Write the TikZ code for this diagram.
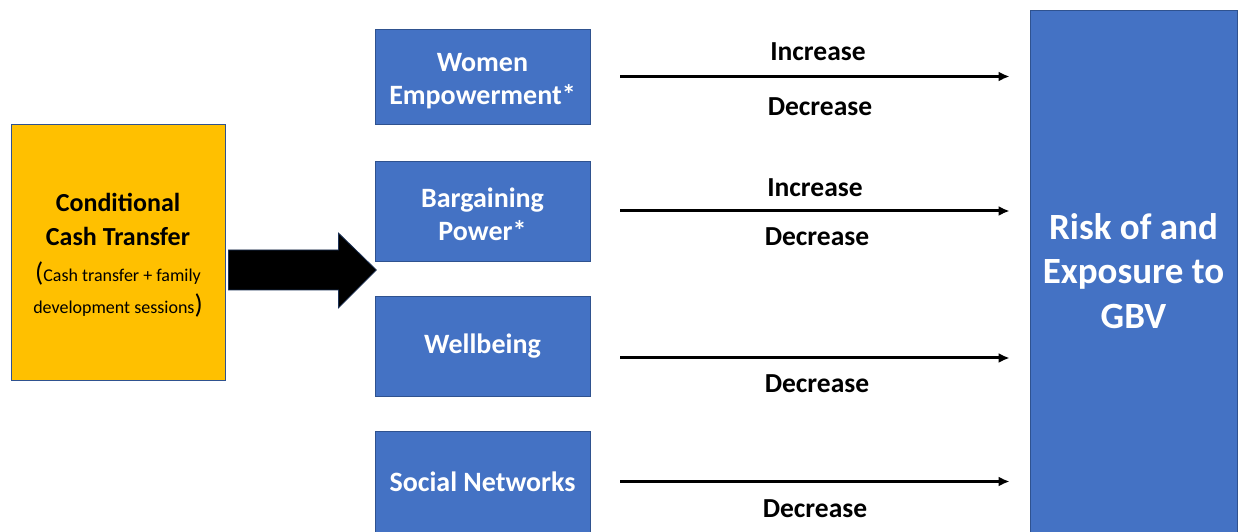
\documentclass[tikz,border=0pt]{standalone}
\usepackage{fontspec}
\setmainfont{Carlito}
\usetikzlibrary{calc,arrows.meta}
\definecolor{ppyellow}{HTML}{FFC000}
\definecolor{ppblue}{HTML}{4472C4}
\definecolor{ppedge}{HTML}{2F528F}
\newcommand{\subtext}{\fontsize{18}{34}\selectfont\mdseries}
\newcommand{\bigparen}[1]{{\fontsize{27}{34}\selectfont #1}}
% taller first line, so that a two-line label sits a little lower
\newcommand{\lowerstrut}[1]{\rule{0pt}{#1}}
\begin{document}
\begin{tikzpicture}[x=1pt,y=1pt,
  box/.style={draw=ppedge, line width=0.8pt, inner sep=0pt, align=center},
  factor/.style={box, fill=ppblue, text=white, minimum width=215pt,
    font=\fontsize{28}{33}\selectfont\bfseries},
  flow/.style={line width=3pt, -{Latex[length=11pt,width=10pt]}},
  effect/.style={font=\fontsize{27.5}{30}\selectfont\bfseries, text=black}]
\useasboundingbox (0,0) rectangle (1238,532);
\fill[white] (0,0) rectangle (1238,532);

% programme box
\node[box, fill=ppyellow, minimum width=214pt, minimum height=256pt,
  font=\fontsize{26}{34}\selectfont\bfseries] (cct) at (118,280)
  {\lowerstrut{25pt}Conditional\\
   Cash Transfer\\[2pt]
   \subtext\bigparen{(}Cash transfer + family\\[-2pt]
   \subtext development sessions\bigparen{)}};

% mediating factors
\node[factor, minimum height=95pt]  (w1) at (482.5,455.5) {\lowerstrut{28pt}Women\\Empowerment*};
\node[factor, minimum height=100pt] (w2) at (482.5,321)   {\lowerstrut{26pt}Bargaining\\Power*};
\node[factor, minimum height=100pt] (w3) at (482.5,186)   {Wellbeing};
\node[factor, minimum height=101pt] (w4) at (482.5,50.5)  {Social Networks};

% outcome
\node[box, fill=ppblue, text=white, minimum width=207pt, minimum height=522pt,
  font=\fontsize{37}{44.5}\selectfont\bfseries] (risk) at (1133.5,261)
  {Risk of and\\Exposure to\\GBV};

% block arrow from programme to factors
\coordinate (s0) at ([xshift=3pt,yshift=-18pt]cct.east);
\draw[ppedge!60!black, fill=black, line width=0.8pt, line join=miter]
  ($(s0)+(0,20)$) -- ++(110,0) -- ++(0,17) -- ($(s0)+(148,0)$)
  -- ($(s0)+(110,-38)$) -- ++(0,18) -- ++(-110,0) -- cycle;

% effects on the outcome
\draw[flow] ([xshift=30pt]w1.east) -- ([xshift=-20pt]w1.east -| risk.west)
  node[effect, midway, xshift=3pt, yshift=25pt] {Increase}
  node[effect, midway, xshift=5pt, yshift=-30pt] {Decrease};
\draw[flow] ([xshift=30pt]w2.east) -- ([xshift=-20pt]w2.east -| risk.west)
  node[effect, midway, yshift=23pt] {Increase}
  node[effect, midway, xshift=2pt, yshift=-26pt] {Decrease};
\draw[flow] ([xshift=30pt,yshift=-12pt]w3.east) -- ([xshift=-20pt,yshift=-12pt]w3.east -| risk.west)
  node[effect, midway, xshift=2pt, yshift=-26pt] {Decrease};
\draw[flow] ([xshift=30pt]w4.east) -- ([xshift=-20pt]w4.east -| risk.west)
  node[effect, midway, yshift=-27pt] {Decrease};
\end{tikzpicture}
\end{document}
